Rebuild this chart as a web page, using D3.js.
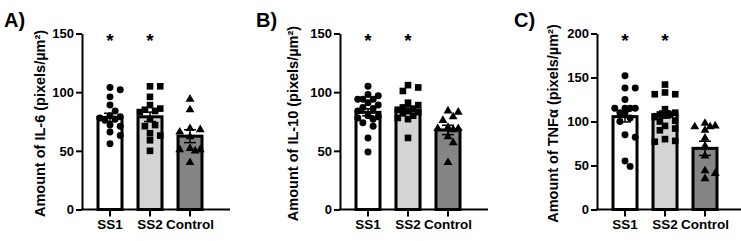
<!DOCTYPE html>
<html>
<head>
<meta charset="utf-8">
<script src="https://cdn.jsdelivr.net/npm/d3@7"></script>
<style>
  body { margin: 0; background: #fff; }
  svg text { font-family: "Liberation Sans", Arial, sans-serif; font-weight: bold; }
</style>
</head>
<body>
<div id="chart"></div>
<script>
const categories = ["SS1", "SS2", "Control"];
const fills = ["#ffffff", "#d4d4d4", "#858585"];

// A) IL-6
const il6Ticks = [0, 50, 100, 150];
const il6Means = [78.5, 79, 62.5];
const il6Sem = [3.5, 4, 5.5];
const il6SS1 = [104, 102, 96, 89, 84, 80, 79, 78, 77, 76, 72, 71, 66, 63, 56];
const il6SS2 = [105, 105, 96, 89, 86, 85, 84, 83, 77, 72, 71, 65, 63, 59, 50];
const il6Ctrl = [94, 85, 69, 68, 66, 62, 52, 51, 51, 50, 40];

// B) IL-10
const il10Ticks = [0, 50, 100, 150];
const il10Means = [82.8, 84.8, 67.8];
const il10Sem = [3, 3, 4];
const il10SS1 = [105, 98, 97, 94, 94, 94, 91, 89, 87, 86, 84, 80, 79, 78, 77, 74, 71, 61, 49];
const il10SS2 = [106, 104, 101, 91, 89, 87, 86, 85, 84, 83, 82, 80, 78, 77, 61];
const il10Ctrl = [84, 83, 79, 76, 70, 69, 69, 68, 62, 57, 40];

// C) TNFα
const tnfTicks = [0, 50, 100, 150, 200];
const tnfMeans = [105.5, 108, 69.5];
const tnfSem = [6, 4, 8];
const tnfSS1 = [152, 138, 138, 125, 115, 115, 115, 115, 110, 110, 104, 100, 85, 82, 55, 49];
const tnfSS2 = [142, 133, 131, 131, 114, 110, 108, 108, 107, 105, 101, 100, 95, 92, 90, 80, 78, 77];
const tnfCtrl = [98, 95, 94, 94, 90, 81, 72, 61, 44, 41, 35];

const panels = [
  { tag: "A)", label: "Amount of IL-6 (pixels/µm²)", ticks: il6Ticks, means: il6Means, sem: il6Sem,
    points: [il6SS1, il6SS2, il6Ctrl], axisX: 82, tagX: 4, labelDx: -42 },
  { tag: "B)", label: "Amount of IL-10 (pixels/µm²)", ticks: il10Ticks, means: il10Means, sem: il10Sem,
    points: [il10SS1, il10SS2, il10Ctrl], axisX: 340, tagX: 256, labelDx: -47 },
  { tag: "C)", label: "Amount of TNFα (pixels/µm²)", ticks: tnfTicks, means: tnfMeans, sem: tnfSem,
    points: [tnfSS1, tnfSS2, tnfCtrl], axisX: 597, tagX: 514, labelDx: -44 }
];

const W = 741, H = 241;
const y0 = 209.5, yTop = 33.5;

const svg = d3.select("#chart").append("svg")
  .attr("width", W).attr("height", H);

// simple beeswarm: spread points sideways, kept inside the bar
function swarm(values, y, d, maxDx) {
  const placed = [];
  values.slice().sort((a, b) => b - a).forEach(v => {
    const py = y(v);
    let best = null, bestGap = -1;
    for (let k = 0; k < 12; k++) {
      const dx = (k % 2 ? 1 : -1) * Math.ceil(k / 2) * d * 0.8;
      if (Math.abs(dx) > maxDx) continue;
      const gap = placed.length ? d3.min(placed, p => Math.hypot(p.dx - dx, p.py - py)) : Infinity;
      if (gap >= d) { best = dx; break; }
      if (gap > bestGap) { bestGap = gap; best = dx; }
    }
    placed.push({ v, dx: best, py });
  });
  return placed;
}

const symbols = [d3.symbolCircle, d3.symbolSquare, d3.symbolTriangle];
const symSize = [38, 44, 34];

panels.forEach(p => {
  const g = svg.append("g");
  const maxV = p.ticks[p.ticks.length - 1];
  const y = d3.scaleLinear().domain([0, maxV]).range([y0, yTop]);
  const x = d3.scaleBand().domain(categories)
    .range([p.axisX + 8, p.axisX + 128]).paddingInner(0.4).paddingOuter(0.2);

  // bars
  g.selectAll("rect.bar").data(categories).enter().append("rect")
    .attr("x", d => x(d))
    .attr("y", (d, i) => y(p.means[i]))
    .attr("width", x.bandwidth())
    .attr("height", (d, i) => y0 - y(p.means[i]))
    .attr("fill", (d, i) => fills[i])
    .attr("stroke", "#000").attr("stroke-width", 3);

  // error bars
  categories.forEach((c, i) => {
    const cx = x(c) + x.bandwidth() / 2;
    const lo = y(p.means[i] - p.sem[i]), hi = y(p.means[i] + p.sem[i]);
    const eg = g.append("g").attr("stroke", "#000").attr("stroke-width", 1.5);
    eg.append("line").attr("x1", cx).attr("x2", cx).attr("y1", lo).attr("y2", hi);
    eg.append("line").attr("x1", cx - 6).attr("x2", cx + 6).attr("y1", lo).attr("y2", lo);
    eg.append("line").attr("x1", cx - 6).attr("x2", cx + 6).attr("y1", hi).attr("y2", hi);
  });

  // points
  categories.forEach((c, i) => {
    const cx = x(c) + x.bandwidth() / 2;
    const pts = swarm(p.points[i], y, 6.4, 12);
    g.selectAll(null).data(pts).enter().append("path")
      .attr("d", d3.symbol().type(symbols[i]).size(symSize[i]))
      .attr("transform", d => `translate(${cx + d.dx},${d.py})`)
      .attr("fill", "#000");
  });

  // y axis
  const ya = g.append("g").attr("transform", `translate(${p.axisX},0)`)
    .call(d3.axisLeft(y).tickValues(p.ticks).tickSize(6).tickPadding(2).tickSizeOuter(0));
  ya.select(".domain").attr("stroke-width", 2);
  ya.selectAll(".tick line").attr("stroke-width", 2);
  ya.selectAll("text").attr("font-size", 13).attr("fill", "#000");

  // x axis
  const xa = g.append("g").attr("transform", `translate(0,${y0})`)
    .call(d3.axisBottom(x).tickSize(7).tickPadding(3).tickSizeOuter(0));
  xa.select(".domain").attr("d", `M${p.axisX - 1},0H${p.axisX + 148}`).attr("stroke-width", 2);
  xa.selectAll(".tick line").attr("stroke-width", 2);
  xa.selectAll("text").attr("font-size", 13.5).attr("fill", "#000");

  // axis title
  g.append("text")
    .attr("transform", `translate(${p.axisX + p.labelDx},${(y0 + yTop) / 2 + 2}) rotate(-90)`)
    .attr("text-anchor", "middle").attr("dominant-baseline", "central")
    .attr("font-size", 14.5)
    .text(p.label);

  // significance stars
  g.selectAll("text.star").data(categories.slice(0, 2)).enter().append("text")
    .attr("x", d => x(d) + x.bandwidth() / 2)
    .attr("y", yTop + 13)
    .attr("text-anchor", "middle")
    .attr("font-size", 19)
    .text("*");

  // panel tag
  g.append("text").attr("x", p.tagX).attr("y", 27)
    .attr("font-size", 20).text(p.tag);
});
</script>
</body>
</html>
